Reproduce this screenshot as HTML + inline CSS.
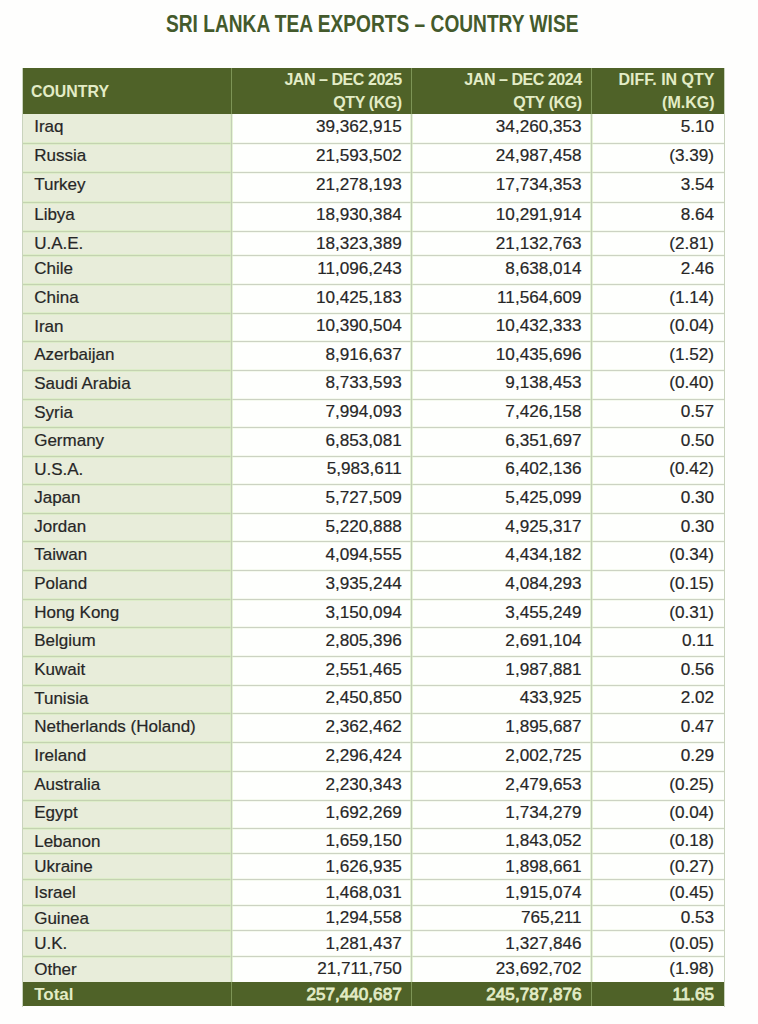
<!DOCTYPE html><html><head><meta charset="utf-8"><style>
*{margin:0;padding:0;box-sizing:border-box}
html,body{width:758px;height:1024px;background:#fefefd;overflow:hidden}
body{position:relative;font-family:"Liberation Sans",sans-serif;color:#262626}
.t{position:absolute;white-space:nowrap}
.title{position:absolute;left:166px;top:10.5px;font-weight:bold;color:#445a2c;font-size:23px;line-height:26px;white-space:nowrap;transform:scaleX(0.8325);transform-origin:0 0}
.bg{position:absolute}
.hl{position:absolute;height:1px}
.vl{position:absolute;width:1px}
.c{position:absolute;font-size:17.15px;line-height:20px;height:20px;white-space:nowrap;-webkit-text-stroke:0.2px #2a2a2a}
.r{text-align:right}
.h{position:absolute;font-weight:bold;color:#e3ecc6;font-size:16px;line-height:20px;white-space:nowrap;text-align:right}
</style></head><body>
<div class="title">SRI LANKA TEA EXPORTS – COUNTRY WISE</div>
<div class="bg" style="left:22px;top:68px;width:702px;height:45.5px;background:#4f6228"></div>
<div class="bg" style="left:22px;top:113.5px;width:209px;height:868.3px;background:#e8edda"></div>
<div class="bg" style="left:231px;top:113.5px;width:493px;height:868.3px;background:#fefffd"></div>
<div class="bg" style="left:22px;top:981.8px;width:702px;height:24.700000000000045px;background:#4f6228"></div>
<div class="hl" style="left:22px;top:142.5px;width:209px;background:#c4d3b0;box-shadow:0 -1px 0 rgba(214,236,190,0.6),0 1px 0 rgba(214,236,190,0.6)"></div>
<div class="hl" style="left:231px;top:142.5px;width:493px;background:#ccd3c2;box-shadow:0 -1px 0 rgba(225,240,210,0.3),0 1px 0 rgba(225,240,210,0.3)"></div>
<div class="hl" style="left:22px;top:171.5px;width:209px;background:#c4d3b0;box-shadow:0 -1px 0 rgba(214,236,190,0.6),0 1px 0 rgba(214,236,190,0.6)"></div>
<div class="hl" style="left:231px;top:171.5px;width:493px;background:#ccd3c2;box-shadow:0 -1px 0 rgba(225,240,210,0.3),0 1px 0 rgba(225,240,210,0.3)"></div>
<div class="hl" style="left:22px;top:201.5px;width:209px;background:#c4d3b0;box-shadow:0 -1px 0 rgba(214,236,190,0.6),0 1px 0 rgba(214,236,190,0.6)"></div>
<div class="hl" style="left:231px;top:201.5px;width:493px;background:#ccd3c2;box-shadow:0 -1px 0 rgba(225,240,210,0.3),0 1px 0 rgba(225,240,210,0.3)"></div>
<div class="hl" style="left:22px;top:230.5px;width:209px;background:#c4d3b0;box-shadow:0 -1px 0 rgba(214,236,190,0.6),0 1px 0 rgba(214,236,190,0.6)"></div>
<div class="hl" style="left:231px;top:230.5px;width:493px;background:#ccd3c2;box-shadow:0 -1px 0 rgba(225,240,210,0.3),0 1px 0 rgba(225,240,210,0.3)"></div>
<div class="hl" style="left:22px;top:255.0px;width:209px;background:#c4d3b0;box-shadow:0 -1px 0 rgba(214,236,190,0.6),0 1px 0 rgba(214,236,190,0.6)"></div>
<div class="hl" style="left:231px;top:255.0px;width:493px;background:#ccd3c2;box-shadow:0 -1px 0 rgba(225,240,210,0.3),0 1px 0 rgba(225,240,210,0.3)"></div>
<div class="hl" style="left:22px;top:283.9px;width:209px;background:#c4d3b0;box-shadow:0 -1px 0 rgba(214,236,190,0.6),0 1px 0 rgba(214,236,190,0.6)"></div>
<div class="hl" style="left:231px;top:283.9px;width:493px;background:#ccd3c2;box-shadow:0 -1px 0 rgba(225,240,210,0.3),0 1px 0 rgba(225,240,210,0.3)"></div>
<div class="hl" style="left:22px;top:312.8px;width:209px;background:#c4d3b0;box-shadow:0 -1px 0 rgba(214,236,190,0.6),0 1px 0 rgba(214,236,190,0.6)"></div>
<div class="hl" style="left:231px;top:312.8px;width:493px;background:#ccd3c2;box-shadow:0 -1px 0 rgba(225,240,210,0.3),0 1px 0 rgba(225,240,210,0.3)"></div>
<div class="hl" style="left:22px;top:340.9px;width:209px;background:#c4d3b0;box-shadow:0 -1px 0 rgba(214,236,190,0.6),0 1px 0 rgba(214,236,190,0.6)"></div>
<div class="hl" style="left:231px;top:340.9px;width:493px;background:#ccd3c2;box-shadow:0 -1px 0 rgba(225,240,210,0.3),0 1px 0 rgba(225,240,210,0.3)"></div>
<div class="hl" style="left:22px;top:369.8px;width:209px;background:#c4d3b0;box-shadow:0 -1px 0 rgba(214,236,190,0.6),0 1px 0 rgba(214,236,190,0.6)"></div>
<div class="hl" style="left:231px;top:369.8px;width:493px;background:#ccd3c2;box-shadow:0 -1px 0 rgba(225,240,210,0.3),0 1px 0 rgba(225,240,210,0.3)"></div>
<div class="hl" style="left:22px;top:398.7px;width:209px;background:#c4d3b0;box-shadow:0 -1px 0 rgba(214,236,190,0.6),0 1px 0 rgba(214,236,190,0.6)"></div>
<div class="hl" style="left:231px;top:398.7px;width:493px;background:#ccd3c2;box-shadow:0 -1px 0 rgba(225,240,210,0.3),0 1px 0 rgba(225,240,210,0.3)"></div>
<div class="hl" style="left:22px;top:427.3px;width:209px;background:#c4d3b0;box-shadow:0 -1px 0 rgba(214,236,190,0.6),0 1px 0 rgba(214,236,190,0.6)"></div>
<div class="hl" style="left:231px;top:427.3px;width:493px;background:#ccd3c2;box-shadow:0 -1px 0 rgba(225,240,210,0.3),0 1px 0 rgba(225,240,210,0.3)"></div>
<div class="hl" style="left:22px;top:455.75px;width:209px;background:#c4d3b0;box-shadow:0 -1px 0 rgba(214,236,190,0.6),0 1px 0 rgba(214,236,190,0.6)"></div>
<div class="hl" style="left:231px;top:455.75px;width:493px;background:#ccd3c2;box-shadow:0 -1px 0 rgba(225,240,210,0.3),0 1px 0 rgba(225,240,210,0.3)"></div>
<div class="hl" style="left:22px;top:484.3px;width:209px;background:#c4d3b0;box-shadow:0 -1px 0 rgba(214,236,190,0.6),0 1px 0 rgba(214,236,190,0.6)"></div>
<div class="hl" style="left:231px;top:484.3px;width:493px;background:#ccd3c2;box-shadow:0 -1px 0 rgba(225,240,210,0.3),0 1px 0 rgba(225,240,210,0.3)"></div>
<div class="hl" style="left:22px;top:513.1px;width:209px;background:#c4d3b0;box-shadow:0 -1px 0 rgba(214,236,190,0.6),0 1px 0 rgba(214,236,190,0.6)"></div>
<div class="hl" style="left:231px;top:513.1px;width:493px;background:#ccd3c2;box-shadow:0 -1px 0 rgba(225,240,210,0.3),0 1px 0 rgba(225,240,210,0.3)"></div>
<div class="hl" style="left:22px;top:541.4px;width:209px;background:#c4d3b0;box-shadow:0 -1px 0 rgba(214,236,190,0.6),0 1px 0 rgba(214,236,190,0.6)"></div>
<div class="hl" style="left:231px;top:541.4px;width:493px;background:#ccd3c2;box-shadow:0 -1px 0 rgba(225,240,210,0.3),0 1px 0 rgba(225,240,210,0.3)"></div>
<div class="hl" style="left:22px;top:570.3px;width:209px;background:#c4d3b0;box-shadow:0 -1px 0 rgba(214,236,190,0.6),0 1px 0 rgba(214,236,190,0.6)"></div>
<div class="hl" style="left:231px;top:570.3px;width:493px;background:#ccd3c2;box-shadow:0 -1px 0 rgba(225,240,210,0.3),0 1px 0 rgba(225,240,210,0.3)"></div>
<div class="hl" style="left:22px;top:598.9px;width:209px;background:#c4d3b0;box-shadow:0 -1px 0 rgba(214,236,190,0.6),0 1px 0 rgba(214,236,190,0.6)"></div>
<div class="hl" style="left:231px;top:598.9px;width:493px;background:#ccd3c2;box-shadow:0 -1px 0 rgba(225,240,210,0.3),0 1px 0 rgba(225,240,210,0.3)"></div>
<div class="hl" style="left:22px;top:627.3px;width:209px;background:#c4d3b0;box-shadow:0 -1px 0 rgba(214,236,190,0.6),0 1px 0 rgba(214,236,190,0.6)"></div>
<div class="hl" style="left:231px;top:627.3px;width:493px;background:#ccd3c2;box-shadow:0 -1px 0 rgba(225,240,210,0.3),0 1px 0 rgba(225,240,210,0.3)"></div>
<div class="hl" style="left:22px;top:655.9px;width:209px;background:#c4d3b0;box-shadow:0 -1px 0 rgba(214,236,190,0.6),0 1px 0 rgba(214,236,190,0.6)"></div>
<div class="hl" style="left:231px;top:655.9px;width:493px;background:#ccd3c2;box-shadow:0 -1px 0 rgba(225,240,210,0.3),0 1px 0 rgba(225,240,210,0.3)"></div>
<div class="hl" style="left:22px;top:684.8px;width:209px;background:#c4d3b0;box-shadow:0 -1px 0 rgba(214,236,190,0.6),0 1px 0 rgba(214,236,190,0.6)"></div>
<div class="hl" style="left:231px;top:684.8px;width:493px;background:#ccd3c2;box-shadow:0 -1px 0 rgba(225,240,210,0.3),0 1px 0 rgba(225,240,210,0.3)"></div>
<div class="hl" style="left:22px;top:713.4px;width:209px;background:#c4d3b0;box-shadow:0 -1px 0 rgba(214,236,190,0.6),0 1px 0 rgba(214,236,190,0.6)"></div>
<div class="hl" style="left:231px;top:713.4px;width:493px;background:#ccd3c2;box-shadow:0 -1px 0 rgba(225,240,210,0.3),0 1px 0 rgba(225,240,210,0.3)"></div>
<div class="hl" style="left:22px;top:742.3px;width:209px;background:#c4d3b0;box-shadow:0 -1px 0 rgba(214,236,190,0.6),0 1px 0 rgba(214,236,190,0.6)"></div>
<div class="hl" style="left:231px;top:742.3px;width:493px;background:#ccd3c2;box-shadow:0 -1px 0 rgba(225,240,210,0.3),0 1px 0 rgba(225,240,210,0.3)"></div>
<div class="hl" style="left:22px;top:770.9px;width:209px;background:#c4d3b0;box-shadow:0 -1px 0 rgba(214,236,190,0.6),0 1px 0 rgba(214,236,190,0.6)"></div>
<div class="hl" style="left:231px;top:770.9px;width:493px;background:#ccd3c2;box-shadow:0 -1px 0 rgba(225,240,210,0.3),0 1px 0 rgba(225,240,210,0.3)"></div>
<div class="hl" style="left:22px;top:799.5px;width:209px;background:#c4d3b0;box-shadow:0 -1px 0 rgba(214,236,190,0.6),0 1px 0 rgba(214,236,190,0.6)"></div>
<div class="hl" style="left:231px;top:799.5px;width:493px;background:#ccd3c2;box-shadow:0 -1px 0 rgba(225,240,210,0.3),0 1px 0 rgba(225,240,210,0.3)"></div>
<div class="hl" style="left:22px;top:827.8px;width:209px;background:#c4d3b0;box-shadow:0 -1px 0 rgba(214,236,190,0.6),0 1px 0 rgba(214,236,190,0.6)"></div>
<div class="hl" style="left:231px;top:827.8px;width:493px;background:#ccd3c2;box-shadow:0 -1px 0 rgba(225,240,210,0.3),0 1px 0 rgba(225,240,210,0.3)"></div>
<div class="hl" style="left:22px;top:853.1px;width:209px;background:#c4d3b0;box-shadow:0 -1px 0 rgba(214,236,190,0.6),0 1px 0 rgba(214,236,190,0.6)"></div>
<div class="hl" style="left:231px;top:853.1px;width:493px;background:#ccd3c2;box-shadow:0 -1px 0 rgba(225,240,210,0.3),0 1px 0 rgba(225,240,210,0.3)"></div>
<div class="hl" style="left:22px;top:878.9px;width:209px;background:#c4d3b0;box-shadow:0 -1px 0 rgba(214,236,190,0.6),0 1px 0 rgba(214,236,190,0.6)"></div>
<div class="hl" style="left:231px;top:878.9px;width:493px;background:#ccd3c2;box-shadow:0 -1px 0 rgba(225,240,210,0.3),0 1px 0 rgba(225,240,210,0.3)"></div>
<div class="hl" style="left:22px;top:904.7px;width:209px;background:#c4d3b0;box-shadow:0 -1px 0 rgba(214,236,190,0.6),0 1px 0 rgba(214,236,190,0.6)"></div>
<div class="hl" style="left:231px;top:904.7px;width:493px;background:#ccd3c2;box-shadow:0 -1px 0 rgba(225,240,210,0.3),0 1px 0 rgba(225,240,210,0.3)"></div>
<div class="hl" style="left:22px;top:930.1px;width:209px;background:#c4d3b0;box-shadow:0 -1px 0 rgba(214,236,190,0.6),0 1px 0 rgba(214,236,190,0.6)"></div>
<div class="hl" style="left:231px;top:930.1px;width:493px;background:#ccd3c2;box-shadow:0 -1px 0 rgba(225,240,210,0.3),0 1px 0 rgba(225,240,210,0.3)"></div>
<div class="hl" style="left:22px;top:955.7px;width:209px;background:#c4d3b0;box-shadow:0 -1px 0 rgba(214,236,190,0.6),0 1px 0 rgba(214,236,190,0.6)"></div>
<div class="hl" style="left:231px;top:955.7px;width:493px;background:#ccd3c2;box-shadow:0 -1px 0 rgba(225,240,210,0.3),0 1px 0 rgba(225,240,210,0.3)"></div>
<div class="vl" style="left:230.5px;top:113.5px;height:868.3px;background:#c4cfb6;box-shadow:-1px 0 0 rgba(214,236,190,0.6),1px 0 0 rgba(214,236,190,0.6)"></div>
<div class="vl" style="left:230.5px;top:68px;height:45.5px;background:#7d9456"></div>
<div class="vl" style="left:230.5px;top:981.8px;height:24.700000000000045px;background:#7d9456"></div>
<div class="vl" style="left:411.2px;top:113.5px;height:868.3px;background:#c4cfb6;box-shadow:-1px 0 0 rgba(214,236,190,0.6),1px 0 0 rgba(214,236,190,0.6)"></div>
<div class="vl" style="left:411.2px;top:68px;height:45.5px;background:#7d9456"></div>
<div class="vl" style="left:411.2px;top:981.8px;height:24.700000000000045px;background:#7d9456"></div>
<div class="vl" style="left:591.1px;top:113.5px;height:868.3px;background:#c4cfb6;box-shadow:-1px 0 0 rgba(214,236,190,0.6),1px 0 0 rgba(214,236,190,0.6)"></div>
<div class="vl" style="left:591.1px;top:68px;height:45.5px;background:#7d9456"></div>
<div class="vl" style="left:591.1px;top:981.8px;height:24.700000000000045px;background:#7d9456"></div>
<div class="vl" style="left:21.5px;top:68px;height:938.5px;background:#c9d3bd"></div>
<div class="vl" style="left:723.5px;top:68px;height:938.5px;background:#c9d3bd"></div>
<div class="h" style="left:31px;top:81.7px;text-align:left;font-size:15.9px">COUNTRY</div>
<div class="h" style="right:356.25px;top:69.5px;letter-spacing:-0.45px">JAN – DEC 2025</div>
<div class="h" style="right:356.2px;top:93.2px;letter-spacing:-0.4px">QTY (KG)</div>
<div class="h" style="right:176.34999999999997px;top:69.5px;letter-spacing:-0.45px">JAN – DEC 2024</div>
<div class="h" style="right:176.29999999999998px;top:93.2px;letter-spacing:-0.4px">QTY (KG)</div>
<div class="h" style="right:43.5px;top:69.5px;letter-spacing:0px">DIFF. IN QTY</div>
<div class="h" style="right:43.5px;top:93.2px;letter-spacing:0px">(M.KG)</div>
<div class="c" style="left:34.2px;top:116.89999999999999px;font-size:17px">Iraq</div><div class="c r" style="right:356.3px;top:115.6px">39,362,915</div><div class="c r" style="right:176.39999999999998px;top:115.6px">34,260,353</div><div class="c r" style="right:44px;top:115.6px">5.10</div>
<div class="c" style="left:34.2px;top:146.4px;font-size:17px">Russia</div><div class="c r" style="right:356.3px;top:145.1px">21,593,502</div><div class="c r" style="right:176.39999999999998px;top:145.1px">24,987,458</div><div class="c r" style="right:44px;top:145.1px">(3.39)</div>
<div class="c" style="left:34.2px;top:175.4px;font-size:17px">Turkey</div><div class="c r" style="right:356.3px;top:174.1px">21,278,193</div><div class="c r" style="right:176.39999999999998px;top:174.1px">17,734,353</div><div class="c r" style="right:44px;top:174.1px">3.54</div>
<div class="c" style="left:34.2px;top:205.4px;font-size:17px">Libya</div><div class="c r" style="right:356.3px;top:204.1px">18,930,384</div><div class="c r" style="right:176.39999999999998px;top:204.1px">10,291,914</div><div class="c r" style="right:44px;top:204.1px">8.64</div>
<div class="c" style="left:34.2px;top:234.4px;font-size:17px">U.A.E.</div><div class="c r" style="right:356.3px;top:233.1px">18,323,389</div><div class="c r" style="right:176.39999999999998px;top:233.1px">21,132,763</div><div class="c r" style="right:44px;top:233.1px">(2.81)</div>
<div class="c" style="left:34.2px;top:258.90000000000003px;font-size:17px">Chile</div><div class="c r" style="right:356.3px;top:257.6px">11,096,243</div><div class="c r" style="right:176.39999999999998px;top:257.6px">8,638,014</div><div class="c r" style="right:44px;top:257.6px">2.46</div>
<div class="c" style="left:34.2px;top:287.8px;font-size:17px">China</div><div class="c r" style="right:356.3px;top:286.5px">10,425,183</div><div class="c r" style="right:176.39999999999998px;top:286.5px">11,564,609</div><div class="c r" style="right:44px;top:286.5px">(1.14)</div>
<div class="c" style="left:34.2px;top:316.70000000000005px;font-size:17px">Iran</div><div class="c r" style="right:356.3px;top:315.40000000000003px">10,390,504</div><div class="c r" style="right:176.39999999999998px;top:315.40000000000003px">10,432,333</div><div class="c r" style="right:44px;top:315.40000000000003px">(0.04)</div>
<div class="c" style="left:34.2px;top:344.8px;font-size:17px">Azerbaijan</div><div class="c r" style="right:356.3px;top:343.5px">8,916,637</div><div class="c r" style="right:176.39999999999998px;top:343.5px">10,435,696</div><div class="c r" style="right:44px;top:343.5px">(1.52)</div>
<div class="c" style="left:34.2px;top:373.70000000000005px;font-size:17px">Saudi Arabia</div><div class="c r" style="right:356.3px;top:372.40000000000003px">8,733,593</div><div class="c r" style="right:176.39999999999998px;top:372.40000000000003px">9,138,453</div><div class="c r" style="right:44px;top:372.40000000000003px">(0.40)</div>
<div class="c" style="left:34.2px;top:402.6px;font-size:17px">Syria</div><div class="c r" style="right:356.3px;top:401.3px">7,994,093</div><div class="c r" style="right:176.39999999999998px;top:401.3px">7,426,158</div><div class="c r" style="right:44px;top:401.3px">0.57</div>
<div class="c" style="left:34.2px;top:431.20000000000005px;font-size:17px">Germany</div><div class="c r" style="right:356.3px;top:429.90000000000003px">6,853,081</div><div class="c r" style="right:176.39999999999998px;top:429.90000000000003px">6,351,697</div><div class="c r" style="right:44px;top:429.90000000000003px">0.50</div>
<div class="c" style="left:34.2px;top:459.65000000000003px;font-size:17px">U.S.A.</div><div class="c r" style="right:356.3px;top:458.35px">5,983,611</div><div class="c r" style="right:176.39999999999998px;top:458.35px">6,402,136</div><div class="c r" style="right:44px;top:458.35px">(0.42)</div>
<div class="c" style="left:34.2px;top:488.20000000000005px;font-size:17px">Japan</div><div class="c r" style="right:356.3px;top:486.90000000000003px">5,727,509</div><div class="c r" style="right:176.39999999999998px;top:486.90000000000003px">5,425,099</div><div class="c r" style="right:44px;top:486.90000000000003px">0.30</div>
<div class="c" style="left:34.2px;top:517.0px;font-size:17px">Jordan</div><div class="c r" style="right:356.3px;top:515.7px">5,220,888</div><div class="c r" style="right:176.39999999999998px;top:515.7px">4,925,317</div><div class="c r" style="right:44px;top:515.7px">0.30</div>
<div class="c" style="left:34.2px;top:545.3px;font-size:17px">Taiwan</div><div class="c r" style="right:356.3px;top:544.0px">4,094,555</div><div class="c r" style="right:176.39999999999998px;top:544.0px">4,434,182</div><div class="c r" style="right:44px;top:544.0px">(0.34)</div>
<div class="c" style="left:34.2px;top:574.1999999999999px;font-size:17px">Poland</div><div class="c r" style="right:356.3px;top:572.9px">3,935,244</div><div class="c r" style="right:176.39999999999998px;top:572.9px">4,084,293</div><div class="c r" style="right:44px;top:572.9px">(0.15)</div>
<div class="c" style="left:34.2px;top:602.8px;font-size:17px">Hong Kong</div><div class="c r" style="right:356.3px;top:601.5px">3,150,094</div><div class="c r" style="right:176.39999999999998px;top:601.5px">3,455,249</div><div class="c r" style="right:44px;top:601.5px">(0.31)</div>
<div class="c" style="left:34.2px;top:631.1999999999999px;font-size:17px">Belgium</div><div class="c r" style="right:356.3px;top:629.9px">2,805,396</div><div class="c r" style="right:176.39999999999998px;top:629.9px">2,691,104</div><div class="c r" style="right:44px;top:629.9px">0.11</div>
<div class="c" style="left:34.2px;top:659.8px;font-size:17px">Kuwait</div><div class="c r" style="right:356.3px;top:658.5px">2,551,465</div><div class="c r" style="right:176.39999999999998px;top:658.5px">1,987,881</div><div class="c r" style="right:44px;top:658.5px">0.56</div>
<div class="c" style="left:34.2px;top:688.6999999999999px;font-size:17px">Tunisia</div><div class="c r" style="right:356.3px;top:687.4px">2,450,850</div><div class="c r" style="right:176.39999999999998px;top:687.4px">433,925</div><div class="c r" style="right:44px;top:687.4px">2.02</div>
<div class="c" style="left:34.2px;top:717.3px;font-size:17px">Netherlands (Holand)</div><div class="c r" style="right:356.3px;top:716.0px">2,362,462</div><div class="c r" style="right:176.39999999999998px;top:716.0px">1,895,687</div><div class="c r" style="right:44px;top:716.0px">0.47</div>
<div class="c" style="left:34.2px;top:746.1999999999999px;font-size:17px">Ireland</div><div class="c r" style="right:356.3px;top:744.9px">2,296,424</div><div class="c r" style="right:176.39999999999998px;top:744.9px">2,002,725</div><div class="c r" style="right:44px;top:744.9px">0.29</div>
<div class="c" style="left:34.2px;top:774.8px;font-size:17px">Australia</div><div class="c r" style="right:356.3px;top:773.5px">2,230,343</div><div class="c r" style="right:176.39999999999998px;top:773.5px">2,479,653</div><div class="c r" style="right:44px;top:773.5px">(0.25)</div>
<div class="c" style="left:34.2px;top:803.4px;font-size:17px">Egypt</div><div class="c r" style="right:356.3px;top:802.1px">1,692,269</div><div class="c r" style="right:176.39999999999998px;top:802.1px">1,734,279</div><div class="c r" style="right:44px;top:802.1px">(0.04)</div>
<div class="c" style="left:34.2px;top:831.6999999999999px;font-size:17px">Lebanon</div><div class="c r" style="right:356.3px;top:830.4px">1,659,150</div><div class="c r" style="right:176.39999999999998px;top:830.4px">1,843,052</div><div class="c r" style="right:44px;top:830.4px">(0.18)</div>
<div class="c" style="left:34.2px;top:857.0px;font-size:17px">Ukraine</div><div class="c r" style="right:356.3px;top:855.7px">1,626,935</div><div class="c r" style="right:176.39999999999998px;top:855.7px">1,898,661</div><div class="c r" style="right:44px;top:855.7px">(0.27)</div>
<div class="c" style="left:34.2px;top:882.8px;font-size:17px">Israel</div><div class="c r" style="right:356.3px;top:881.5px">1,468,031</div><div class="c r" style="right:176.39999999999998px;top:881.5px">1,915,074</div><div class="c r" style="right:44px;top:881.5px">(0.45)</div>
<div class="c" style="left:34.2px;top:908.6px;font-size:17px">Guinea</div><div class="c r" style="right:356.3px;top:907.3000000000001px">1,294,558</div><div class="c r" style="right:176.39999999999998px;top:907.3000000000001px">765,211</div><div class="c r" style="right:44px;top:907.3000000000001px">0.53</div>
<div class="c" style="left:34.2px;top:934.0px;font-size:17px">U.K.</div><div class="c r" style="right:356.3px;top:932.7px">1,281,437</div><div class="c r" style="right:176.39999999999998px;top:932.7px">1,327,846</div><div class="c r" style="right:44px;top:932.7px">(0.05)</div>
<div class="c" style="left:34.2px;top:959.6px;font-size:17px">Other</div><div class="c r" style="right:356.3px;top:958.3000000000001px">21,711,750</div><div class="c r" style="right:176.39999999999998px;top:958.3000000000001px">23,692,702</div><div class="c r" style="right:44px;top:958.3000000000001px">(1.98)</div>
<div class="c" style="font-weight:normal;-webkit-text-stroke:0.8px #e3ecc6;color:#e3ecc6;left:34.2px;top:985.1999999999999px;font-size:17px;font-weight:bold;-webkit-text-stroke:0">Total</div><div class="c r" style="font-weight:normal;-webkit-text-stroke:0.8px #e3ecc6;color:#e3ecc6;right:356.3px;top:983.9px">257,440,687</div><div class="c r" style="font-weight:normal;-webkit-text-stroke:0.8px #e3ecc6;color:#e3ecc6;right:176.39999999999998px;top:983.9px">245,787,876</div><div class="c r" style="font-weight:normal;-webkit-text-stroke:0.8px #e3ecc6;color:#e3ecc6;right:44px;top:983.9px">11.65</div>
</body></html>
